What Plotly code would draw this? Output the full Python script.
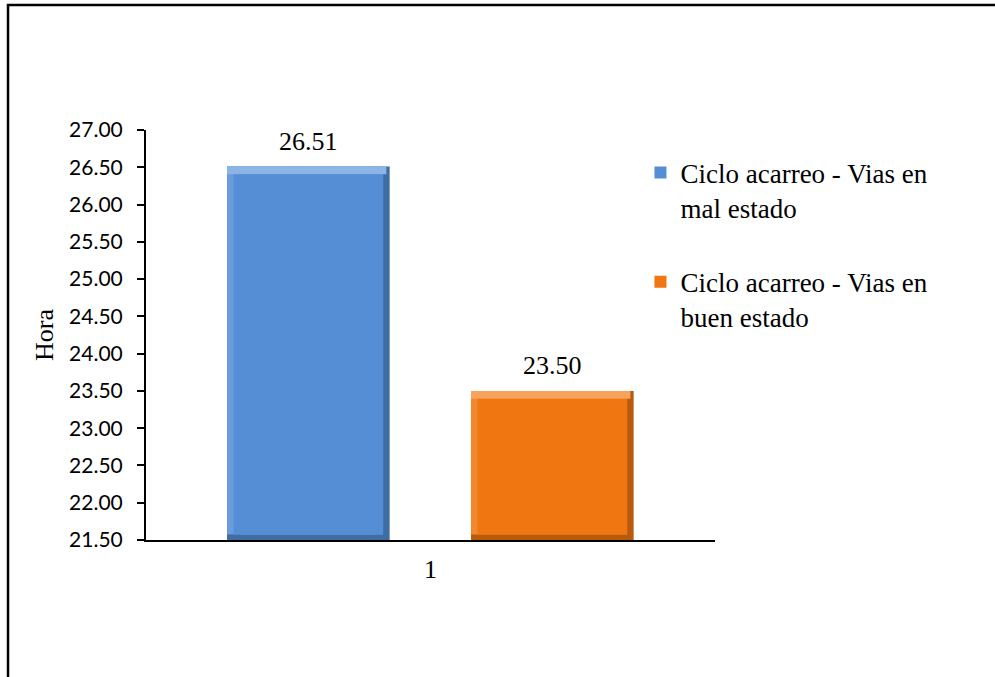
import plotly.graph_objects as go

# Chart data
category = ["1"]
series_names = ["Ciclo acarreo - Vias en<br>mal estado",
                "Ciclo acarreo - Vias en<br>buen estado"]
values = [26.51, 23.50]
y_ticks = [21.5, 22.0, 22.5, 23.0, 23.5, 24.0, 24.5, 25.0, 25.5, 26.0, 26.5, 27.0]

# Styling: face, top highlight, left edge, right/bottom shadow
face_colors = ["#558ED5", "#F07611"]
top_colors = ["#8CB4E6", "#F7A35E"]
left_colors = ["#6A9CDB", "#F3872E"]
dark_colors = ["#3F6CA3", "#B95B0D"]
bar_offsets = [-0.3576, 0.0712]
bar_width = 0.2858

Y_MIN, Y_MAX = 21.5, 27.0
# bevel thickness expressed in axis units
dy_top = 0.105
dy_bot = 0.075
dx = 0.0115

SERIF = "Liberation Serif, Times New Roman, serif"
SANS = "Lato, Calibri, sans-serif"

fig = go.Figure()
annotations = []

for i, v in enumerate(values):
    # shadow layer: full bar (right and bottom edges)
    fig.add_trace(go.Bar(
        x=category, y=[v], offset=bar_offsets[i], width=bar_width,
        marker=dict(color=dark_colors[i], line=dict(width=0)),
        showlegend=False, hoverinfo="skip",
    ))
    # left edge
    fig.add_trace(go.Bar(
        x=category, y=[v - (Y_MIN + dy_bot)], base=[Y_MIN + dy_bot],
        offset=bar_offsets[i], width=bar_width - dx,
        marker=dict(color=left_colors[i], line=dict(width=0)),
        showlegend=False, hoverinfo="skip",
    ))
    # top highlight
    fig.add_trace(go.Bar(
        x=category, y=[dy_top], base=[v - dy_top],
        offset=bar_offsets[i], width=bar_width - dx * 0.5,
        marker=dict(color=top_colors[i], line=dict(width=0)),
        showlegend=False, hoverinfo="skip",
    ))
    # face
    fig.add_trace(go.Bar(
        x=category, y=[v - dy_top - (Y_MIN + dy_bot)], base=[Y_MIN + dy_bot],
        offset=bar_offsets[i] + dx, width=bar_width - 2 * dx,
        marker=dict(color=face_colors[i], line=dict(width=0)),
        name=series_names[i], legendgroup=f"g{i}", showlegend=True,
        hoverinfo="skip",
    ))
    # value label above the bar
    annotations.append(dict(
        x=bar_offsets[i] + bar_width / 2, y=v, xref="x", yref="y",
        text=f"{v:.2f}", showarrow=False, yanchor="bottom", yshift=9,
        font=dict(family=SERIF, size=26, color="black"),
    ))

fig.update_layout(
    width=995, height=677,
    margin=dict(l=146, r=280, t=130, b=137),
    paper_bgcolor="white", plot_bgcolor="white",
    barmode="overlay",
    showlegend=True,
    legend=dict(
        x=0.869, y=0.955, xanchor="left", yanchor="top",
        font=dict(family=SERIF, size=27, color="black"),
        valign="top", tracegroupgap=36, itemwidth=30,
        bgcolor="rgba(0,0,0,0)",
    ),
    xaxis=dict(
        type="category", range=[-0.5, 0.5],
        showline=True, linecolor="black", linewidth=2,
        ticks="", showgrid=False, zeroline=False,
        ticklabelstandoff=5,
        tickfont=dict(family=SERIF, size=26, color="black"),
    ),
    yaxis=dict(
        range=[Y_MIN, Y_MAX], tickvals=y_ticks,
        ticktext=[f"{t:.2f}" for t in y_ticks],
        showline=True, linecolor="black", linewidth=2,
        ticks="outside", ticklen=7, tickwidth=2, tickcolor="black",
        showgrid=False, zeroline=False,
        ticklabelstandoff=10,
        tickfont=dict(family=SANS, size=21, color="black"),
        title=dict(text="Hora", font=dict(family=SERIF, size=26, color="black"),
                   standoff=8),
    ),
    annotations=annotations,
    shapes=[dict(
        type="rect", xref="paper", yref="paper",
        x0=-0.2425, x1=1.6, y0=-0.5, y1=1.3049,
        line=dict(color="black", width=2.5), fillcolor="rgba(0,0,0,0)",
        layer="above",
    )],
)

fig.write_html("out.html")
